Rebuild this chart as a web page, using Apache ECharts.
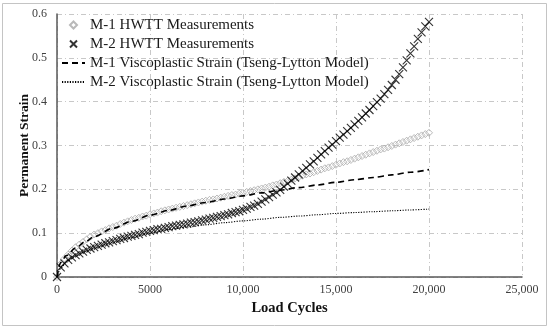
<!DOCTYPE html>
<html><head><meta charset="utf-8">
<script src="https://cdn.jsdelivr.net/npm/echarts@6/dist/echarts.min.js"></script>
<style>html,body{margin:0;padding:0;background:#fff}#c{width:550px;height:329px}</style>
</head><body><div id="c"></div>
<script>
var cycles = [0,200,400,600,800,1000,1200,1400,1600,1800,2000,2200,2400,2600,2800,3000,3200,3400,3600,3800,4000,4200,4400,4600,4800,5000,5200,5400,5600,5800,6000,6200,6400,6600,6800,7000,7200,7400,7600,7800,8000,8200,8400,8600,8800,9000,9200,9400,9600,9800,10000,10200,10400,10600,10800,11000,11200,11400,11600,11800,12000,12200,12400,12600,12800,13000,13200,13400,13600,13800,14000,14200,14400,14600,14800,15000,15200,15400,15600,15800,16000,16200,16400,16600,16800,17000,17200,17400,17600,17800,18000,18200,18400,18600,18800,19000,19200,19400,19600,19800,20000];
var m1Measured = [0,0.030,0.042,0.051,0.060,0.068,0.074,0.080,0.086,0.092,0.097,0.100,0.104,0.107,0.111,0.114,0.117,0.121,0.124,0.127,0.130,0.133,0.135,0.138,0.140,0.143,0.145,0.147,0.150,0.152,0.154,0.156,0.158,0.160,0.162,0.164,0.166,0.168,0.170,0.172,0.174,0.176,0.177,0.179,0.181,0.183,0.185,0.187,0.188,0.190,0.192,0.194,0.196,0.198,0.200,0.202,0.204,0.206,0.209,0.211,0.214,0.217,0.219,0.222,0.225,0.228,0.231,0.234,0.236,0.239,0.242,0.245,0.248,0.250,0.253,0.256,0.259,0.262,0.264,0.267,0.270,0.273,0.276,0.279,0.282,0.285,0.288,0.291,0.293,0.296,0.299,0.302,0.305,0.308,0.311,0.314,0.317,0.320,0.323,0.326,0.329];
var m2Measured = [0,0.022,0.031,0.039,0.045,0.050,0.054,0.058,0.062,0.065,0.068,0.071,0.074,0.077,0.079,0.082,0.084,0.087,0.089,0.092,0.094,0.096,0.098,0.101,0.103,0.105,0.107,0.109,0.110,0.112,0.114,0.116,0.117,0.119,0.120,0.122,0.124,0.125,0.127,0.129,0.131,0.133,0.135,0.137,0.139,0.141,0.143,0.146,0.148,0.150,0.153,0.156,0.160,0.163,0.167,0.172,0.177,0.182,0.188,0.193,0.199,0.206,0.213,0.220,0.227,0.234,0.242,0.249,0.257,0.264,0.272,0.280,0.287,0.295,0.302,0.310,0.318,0.325,0.333,0.340,0.348,0.356,0.364,0.373,0.381,0.390,0.399,0.407,0.417,0.427,0.438,0.450,0.463,0.478,0.494,0.510,0.526,0.543,0.558,0.572,0.582];
var modelCycles = [0,200,500,1000,1500,2000,3000,4000,5000,6000,7000,8000,9000,10000,11000,12000,13000,14000,15000,16000,17000,18000,19000,20000];
var m1Model = [0,0.033,0.049,0.066,0.080,0.092,0.111,0.127,0.141,0.152,0.162,0.170,0.178,0.185,0.192,0.198,0.204,0.210,0.216,0.222,0.227,0.233,0.239,0.245];
var m2Model = [0,0.020,0.034,0.048,0.058,0.066,0.079,0.090,0.100,0.108,0.114,0.119,0.124,0.128,0.132,0.136,0.139,0.142,0.145,0.147,0.149,0.151,0.153,0.155];
var seriesNames = ['M-1 HWTT Measurements','M-2 HWTT Measurements','M-1 Viscoplastic Strain (Tseng-Lytton Model)','M-2 Viscoplastic Strain (Tseng-Lytton Model)'];
var xTicks = ['0','5000','10,000','15,000','20,000','25,000'];
var yTicks = ['0','0.1','0.2','0.3','0.4','0.5','0.6'];

function pairs(xs, ys){ return xs.map(function(x,i){ return [x, ys[i]]; }); }
var FONT = '"Liberation Serif","Times New Roman",serif';
var chart = echarts.init(document.getElementById('c'), null, {renderer:'canvas'});
chart.setOption({
  animation:false,
  backgroundColor:'#fff',
  graphic:[{type:'rect',shape:{x:2.5,y:3.5,width:544,height:322},style:{fill:'none',stroke:'#c4c4c4',lineWidth:1},silent:true}],
  grid:{left:57,right:28,top:14,bottom:52},
  legend:{
    orient:'vertical',left:61,top:17,padding:0,itemWidth:23,itemHeight:7,itemGap:3,
    textStyle:{fontFamily:FONT,fontSize:15,lineHeight:16,color:'#1a1a1a'},
    data:[
      {name:seriesNames[0]},
      {name:seriesNames[1]},
      {name:seriesNames[2],itemStyle:{opacity:0}},
      {name:seriesNames[3],itemStyle:{opacity:0}}
    ]
  },
  xAxis:{
    type:'value',min:0,max:25000,interval:5000,
    name:'Load Cycles',nameLocation:'middle',nameGap:24,
    nameTextStyle:{fontFamily:FONT,fontSize:14.5,fontWeight:'bold',color:'#111'},
    axisLine:{show:true,lineStyle:{color:'#595959',width:1.5}},
    axisTick:{show:false},
    axisLabel:{fontFamily:FONT,fontSize:12,color:'#404040',margin:7,
      formatter:function(v){ return xTicks[Math.round(v/5000)]; }},
    splitLine:{show:true,lineStyle:{color:'#c8c8c8',width:1,type:[5,3,1,3]}}
  },
  yAxis:{
    type:'value',min:0,max:0.6,interval:0.1,
    name:'Permanent Strain',nameLocation:'middle',nameGap:25,nameMoveOverlap:false,
    nameTextStyle:{fontFamily:FONT,fontSize:13.5,fontWeight:'bold',color:'#111'},
    axisLine:{show:true,lineStyle:{color:'#595959',width:1.5}},
    axisTick:{show:false},
    axisLabel:{fontFamily:FONT,fontSize:12,color:'#404040',margin:10,
      formatter:function(v){ return yTicks[Math.round(v*10)]; }},
    splitLine:{show:true,lineStyle:{color:'#c8c8c8',width:1,type:[5,3,1,3]}}
  },
  series:[
    {name:seriesNames[0],type:'scatter',data:pairs(cycles,m1Measured),
     symbol:'path://M0,-1L1,0L0,1L-1,0Z',symbolSize:[7,7],
     itemStyle:{color:'rgba(255,255,255,0)',borderColor:'#a8a8a8',borderWidth:1},z:2},
    {name:seriesNames[1],type:'scatter',data:pairs(cycles,m2Measured),
     symbol:'path://M-1,-1L1,1M-1,1L1,-1',symbolSize:[8,8],
     itemStyle:{color:'rgba(0,0,0,0)',borderColor:'#000',borderWidth:1.1},z:3},
    {name:seriesNames[2],type:'line',data:pairs(modelCycles,m1Model),
     symbol:'none',smooth:0.3,smoothMonotone:'x',
     lineStyle:{color:'#000',width:1.6,type:[6,4]},itemStyle:{color:'#000'},z:4},
    {name:seriesNames[3],type:'line',data:pairs(modelCycles,m2Model),
     symbol:'none',smooth:0.3,smoothMonotone:'x',
     lineStyle:{color:'#000',width:1.1,type:[1.2,1.4]},itemStyle:{color:'#000'},z:4}
  ]
});
</script></body></html>
